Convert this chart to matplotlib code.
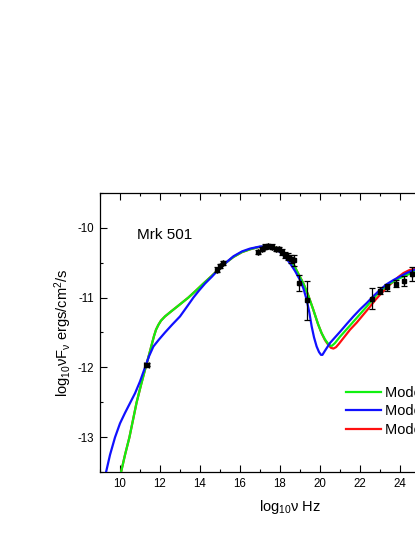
import matplotlib
matplotlib.use("Agg")
import matplotlib.pyplot as plt
from matplotlib.ticker import MultipleLocator

plt.rcParams['font.family'] = ['Liberation Sans', 'DejaVu Sans']
plt.rcParams['mathtext.fontset'] = 'custom'
plt.rcParams['mathtext.rm'] = 'Liberation Sans'
plt.rcParams['mathtext.it'] = 'Liberation Sans:italic'
plt.rcParams['mathtext.bf'] = 'Liberation Sans:bold'
plt.rcParams['axes.unicode_minus'] = False

# ---------------- data ----------------
green_x = [9.95, 10.05, 10.25, 10.47, 10.65, 10.83, 11.05, 11.28, 11.45, 11.58, 11.7, 11.8,
           11.92, 12.05, 12.25, 12.55, 12.9, 13.42, 13.8, 14.17, 14.55, 14.92, 15.3, 15.67,
           16.1, 16.5, 16.9, 17.2, 17.5, 17.8, 18.1, 18.4, 18.7, 18.95, 19.17, 19.4, 19.67,
           19.9, 20.08, 20.25, 20.4, 20.52, 20.6, 20.75, 21.0, 21.25, 21.5, 21.9, 22.33,
           22.65, 23.0, 23.35, 23.67, 24.0, 24.33, 24.7, 25.0, 25.5]
green_y = [-13.7, -13.5, -13.25, -13.0, -12.75, -12.5, -12.25, -12.0, -11.82, -11.68, -11.55, -11.46,
           -11.39, -11.33, -11.27, -11.2, -11.12, -11.0, -10.9, -10.8, -10.7, -10.6, -10.5, -10.42,
           -10.35, -10.31, -10.28, -10.27, -10.27, -10.29, -10.34, -10.42, -10.54, -10.68, -10.8, -10.96, -11.18,
           -11.38, -11.51, -11.6, -11.66, -11.69, -11.69, -11.65, -11.56, -11.48, -11.4, -11.27, -11.13,
           -11.02, -10.91, -10.83, -10.77, -10.72, -10.68, -10.63, -10.6, -10.56]

blue_x = [9.2, 9.3, 9.5, 9.75, 10.0, 10.25, 10.5, 10.75, 11.0, 11.25, 11.45, 11.67, 11.95,
          12.25, 12.6, 13.0, 13.35, 13.67, 13.95, 14.25, 14.6, 14.92, 15.3, 15.67, 16.1, 16.5,
          17.0, 17.42, 17.75, 18.0, 18.25, 18.5, 18.75, 19.0, 19.17, 19.33, 19.47, 19.58, 19.7,
          19.83, 19.95, 20.05, 20.12, 20.25, 20.5, 20.75, 21.0, 21.33, 21.67, 22.0, 22.33, 22.67,
          23.0, 23.33, 23.67, 24.0, 24.33, 24.75, 25.5]
blue_y = [-13.7, -13.5, -13.25, -13.0, -12.8, -12.65, -12.51, -12.37, -12.2, -12.0, -11.84, -11.7, -11.6,
          -11.5, -11.39, -11.27, -11.13, -11.0, -10.9, -10.8, -10.7, -10.6, -10.5, -10.41, -10.34, -10.3,
          -10.27, -10.27, -10.3, -10.35, -10.42, -10.51, -10.62, -10.75, -10.87, -11.03, -11.22, -11.41, -11.57,
          -11.7, -11.78, -11.82, -11.82, -11.76, -11.65, -11.57, -11.49, -11.38, -11.27, -11.17, -11.08, -10.98,
          -10.89, -10.81, -10.75, -10.7, -10.65, -10.6, -10.55]

red_x = [9.95, 10.05, 10.25, 10.47, 10.65, 10.83, 11.05, 11.28, 11.45, 11.58, 11.7, 11.8,
         11.92, 12.05, 12.25, 12.55, 12.9, 13.42, 13.8, 14.17, 14.55, 14.92, 15.3, 15.67,
         16.1, 16.5, 16.9, 17.2, 17.5, 17.8, 18.1, 18.4, 18.7, 18.95, 19.17, 19.4, 19.67,
         19.9, 20.08, 20.25, 20.42, 20.55, 20.67, 20.8, 20.95, 21.17, 21.5, 21.83, 22.15,
         22.5, 22.75, 23.0, 23.33, 23.67, 23.9, 24.17, 24.45, 24.75, 25.5]
red_y = [-13.7, -13.5, -13.25, -13.0, -12.75, -12.5, -12.25, -12.0, -11.82, -11.68, -11.55, -11.46,
         -11.39, -11.33, -11.27, -11.2, -11.12, -11.0, -10.9, -10.8, -10.7, -10.6, -10.5, -10.42,
         -10.35, -10.31, -10.28, -10.27, -10.27, -10.29, -10.34, -10.42, -10.54, -10.68, -10.8, -10.96, -11.18,
         -11.38, -11.51, -11.61, -11.68, -11.72, -11.73, -11.71, -11.66, -11.58, -11.46, -11.36, -11.25,
         -11.13, -11.04, -10.96, -10.86, -10.77, -10.71, -10.65, -10.61, -10.59, -10.55]

obs_x = [11.33, 14.85, 15.0, 15.15, 16.92, 17.1, 17.25, 17.4, 17.6, 17.8, 17.95, 18.1,
         18.25, 18.4, 18.55, 18.7, 18.97, 19.37, 22.58, 23.0, 23.37, 23.78, 24.2, 24.6]
obs_y = [-11.96, -10.6, -10.55, -10.51, -10.35, -10.31, -10.27, -10.26, -10.27, -10.3, -10.3, -10.35,
         -10.39, -10.42, -10.45, -10.47, -10.79, -11.04, -11.02, -10.9, -10.85, -10.8, -10.76, -10.67]
obs_yerr = [0.02, 0.03, 0.03, 0.03, 0.03, 0.03, 0.03, 0.03, 0.03, 0.03, 0.03, 0.04,
            0.04, 0.05, 0.06, 0.08, 0.11, 0.28, 0.15, 0.05, 0.05, 0.05, 0.07, 0.1]
obs_xerr = [0.12, 0, 0, 0, 0, 0, 0, 0, 0, 0, 0, 0,
            0, 0, 0, 0, 0, 0, 0, 0, 0, 0, 0, 0]

model_labels = ['Model 1', 'Model 2', 'Model 3']
x_ticks = [10, 12, 14, 16, 18, 20, 22, 24]
y_ticks = [-10, -11, -12, -13]

# ---------------- figure ----------------
fig = plt.figure(figsize=(4.15, 5.37), dpi=100)
ax = fig.add_axes([0.241, 0.1205, 0.9157, 0.5207])

lr, = ax.plot(red_x, red_y, color='#ff1010', lw=1.6, zorder=2)
lg, = ax.plot(green_x, green_y, color='#10f010', lw=1.6, zorder=3)
lb, = ax.plot(blue_x, blue_y, color='#1010ff', lw=1.6, zorder=4)

ax.errorbar(obs_x, obs_y, yerr=obs_yerr, xerr=obs_xerr, fmt='s', color='black',
            ms=3.5, elinewidth=0.9, capsize=2.5, capthick=0.9, zorder=5)

ax.set_xlim(9, 28)
ax.set_ylim(-13.5, -9.5)
ax.set_xticks(x_ticks)
ax.set_yticks(y_ticks)
ax.xaxis.set_minor_locator(MultipleLocator(1))
ax.yaxis.set_minor_locator(MultipleLocator(0.5))
ax.tick_params(which='both', direction='in', top=True, right=True, width=0.8,
               labelsize=8.3, colors='black')
ax.tick_params(which='major', length=5, pad=4)
ax.tick_params(which='minor', length=2.5)
for s in ax.spines.values():
    s.set_linewidth(0.9)

ax.set_xlabel(r'log$_{\mathrm{10}}$ν Hz', fontsize=10.5, labelpad=6)
ax.set_ylabel(r'log$_{\mathrm{10}}$νF$_{\mathrm{ν}}$ ergs/cm$^{\mathrm{2}}$/s', fontsize=10.5, labelpad=3)

ax.text(10.83, -10.11, 'Mrk 501', fontsize=11, ha='left', va='center')

fig.legend([lg, lb, lr], model_labels, loc='upper left',
           bbox_to_anchor=(346 / 415, 1 - 386 / 537), frameon=False,
           fontsize=10.5, handlelength=2.4, handletextpad=0.3, labelspacing=0.3,
           borderpad=0, borderaxespad=0)

fig.savefig('out.png', dpi=100)
